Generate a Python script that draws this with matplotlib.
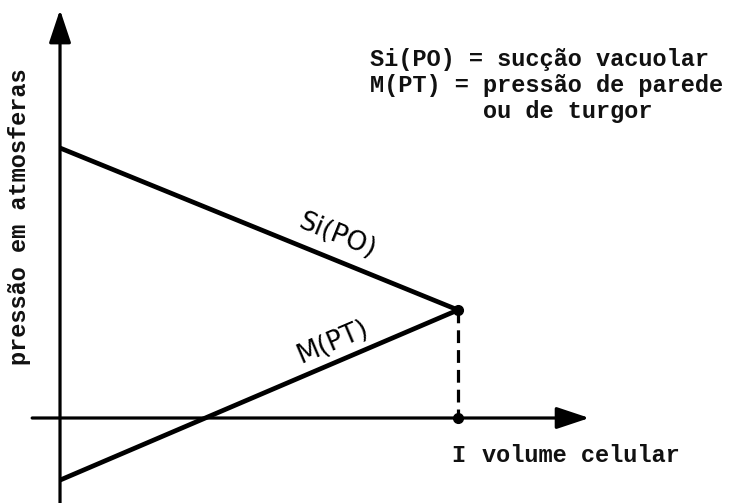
import matplotlib
matplotlib.use("Agg")
import matplotlib.pyplot as plt

# schematic data (arbitrary units)
volume = [0, 1]           # cell volume, 1 = equilibrium volume
si_po = [10, 4]           # Si(PO) succao vacuolar
m_pt = [-2.3, 4]          # M(PT) pressao de parede
legend_lines = ["Si(PO) = sucção vacuolar",
                "M(PT) = pressão de parede",
                "        ou de turgor"]

W, H = 745, 503
fig = plt.figure(figsize=(W / 100, H / 100), dpi=100)
ax = fig.add_axes([0, 0, 1, 1])
ax.set_xlim(-0.1508, 1.7211)
ax.set_ylim(-3.148, 15.481)
ax.axis("off")


def px(x, y):
    return x / W, 1 - y / H


mono = dict(family="Liberation Mono", weight="bold", fontsize=17, color="#111111")

# axes with arrows
arrow = dict(arrowstyle="-|>,head_length=0.42,head_width=0.14", mutation_scale=48,
             lw=2.3, color="black", shrinkA=0, shrinkB=0)
ax.annotate("", xy=(1.33, 0), xytext=(-0.07, 0), arrowprops=arrow)
ax.annotate("", xy=(0, 15.12), xytext=(0, -3.4), arrowprops=arrow)

# the two lines
ax.plot(volume, si_po, color="black", lw=3.4, solid_capstyle="butt")
ax.plot(volume, m_pt, color="black", lw=3.4, solid_capstyle="butt")

# equilibrium point
ax.plot([volume[1], volume[1]], [si_po[1], 0], color="black", lw=2.3,
        linestyle=(0, (4, 2.2)))
ax.plot([volume[1], volume[1]], [si_po[1], 0], "o", color="black", ms=7)

# line labels
fig.text(*px(337, 236), "Si(PO)", family="DejaVu Sans", fontsize=19,
         rotation=-22, ha="center", va="center")
fig.text(*px(333, 342), "M(PT)", family="DejaVu Sans", fontsize=19,
         rotation=23, ha="center", va="center")

# axis titles
fig.text(*px(458, 455), "I", ha="center", va="center", **mono)
fig.text(*px(482, 455), "volume celular", ha="left", va="center", **mono)
fig.text(*px(20, 217), "pressão em atmosferas", rotation=90,
         ha="center", va="center", **mono)

# legend text
for i, line in enumerate(legend_lines):
    fig.text(*px(370, 66 + i * 26), line, ha="left", va="baseline", **mono)

fig.savefig("out.png", dpi=100)
